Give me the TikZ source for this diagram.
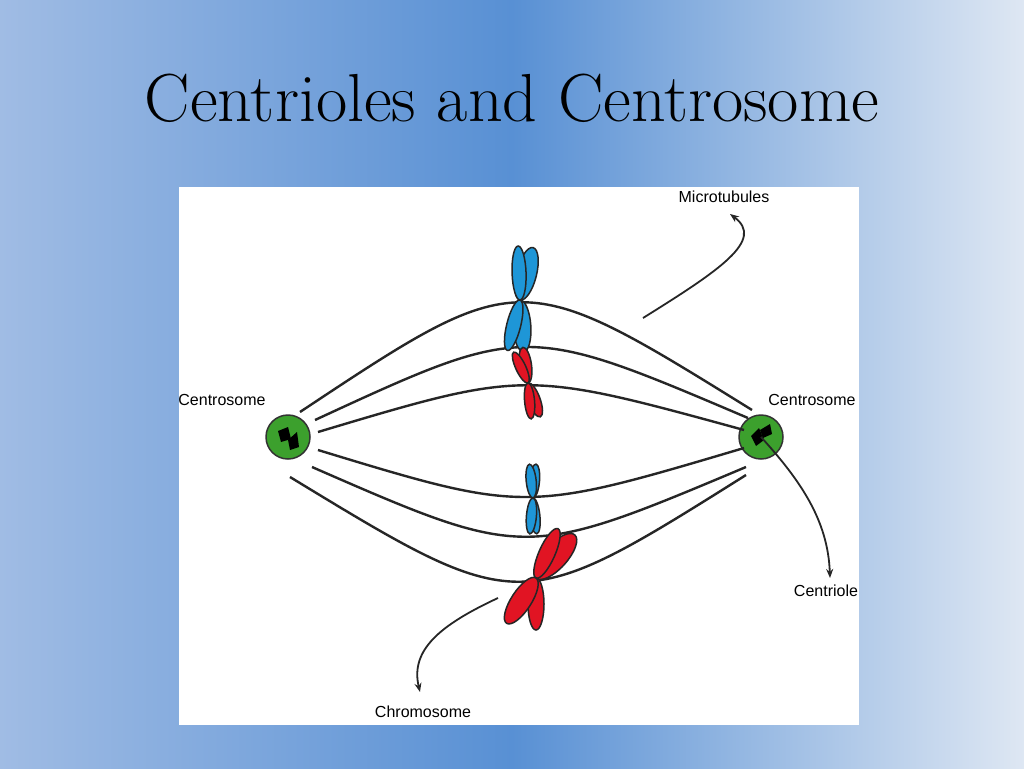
\documentclass[tikz,border=0pt]{standalone}
\usepackage{fontspec}
\newfontfamily\labelfont{Liberation Sans}
\usetikzlibrary{arrows.meta,positioning}
\definecolor{bgleft}{RGB}{160,188,228}
\definecolor{bgmid}{RGB}{88,144,212}
\definecolor{bgright}{RGB}{222,231,243}
\definecolor{chromblue}{RGB}{30,150,215}
\definecolor{chromred}{RGB}{225,20,35}
\definecolor{centgreen}{RGB}{60,160,45}
% one chromatid arm: centromere, tilt, half length, half width, up (-1) or down (1)
\newcommand{\chromarm}[5]{%
    \filldraw[shift={#1}, rotate=#2] (0,#5*#3) ellipse (#4 and #3);}
\begin{document}
\begin{tikzpicture}[x=1pt,y=-1pt,
        fibre/.style={line width=2.4pt, black!85},
        pointer/.style={-{Stealth[length=9pt,width=7pt]}, line width=1.8pt, black!85},
        lbl/.style={font=\labelfont\fontsize{16}{18}\selectfont, inner sep=0pt},
        arm/.style={draw=black!85, line width=1.5pt},
        centro/.style={circle, draw=black!80, line width=1.5pt, fill=centgreen, minimum size=44pt, inner sep=0pt}
    ]
        % Background
        \useasboundingbox (0,0) rectangle (1024,768);
        \shade[left color=bgleft, right color=bgright, middle color=bgmid] (0,0) rectangle (1024,768);
        \fill[white] (179,187) rectangle (859,725);

        % Title
        \node[font=\fontsize{68}{80}\selectfont] (title) at (512,98) {Centrioles and Centrosome};

        % Centrosomes
        \node[centro] (csl) at (288,437) {};
        \node[centro] (csr) at (761,437) {};
        \fill[black] (278,431) -- (288,427) -- (291,439) -- (281,442) -- cycle;
        \fill[black] (288,440) -- (297,432) -- (299,447) -- (290,450) -- cycle;
        \fill[black] (751,436) -- (759,428) -- (764,440) -- (756,446) -- cycle;
        \fill[black] (760,430) -- (770,424) -- (772,434) -- (763,438) -- cycle;

        % Spindle fibres
        \draw[fibre] (300,412) .. controls (520,266) .. (752,410);
        \draw[fibre] (315,420) .. controls (525,323) .. (748,418);
        \draw[fibre] (318,432) .. controls (525,370) .. (744,430);
        \draw[fibre] (318,450) .. controls (525,513) .. (744,448);
        \draw[fibre] (312,467) .. controls (525,560) .. (746,467);
        \draw[fibre] (290,477) .. controls (520,617) .. (746,475);

        % Chromosomes
        \begin{scope}[arm, fill=chromblue]
            \chromarm{(520,300)}{-14}{27}{10}{-1}
            \chromarm{(520,300)}{2}{27}{7}{-1}
            \chromarm{(520,300)}{4}{26}{9}{1}
            \chromarm{(520,300)}{-14}{26}{7}{1}
            \chromarm{(533,498)}{-5}{17}{5}{-1}
            \chromarm{(533,498)}{6}{17}{5}{-1}
            \chromarm{(533,498)}{6}{18}{5}{1}
            \chromarm{(533,498)}{-5}{18}{5}{1}
        \end{scope}
        \begin{scope}[arm, fill=chromred]
            \chromarm{(528,383)}{8}{18}{6}{-1}
            \chromarm{(528,383)}{25}{17}{5}{-1}
            \chromarm{(528,383)}{20}{18}{6}{1}
            \chromarm{(528,383)}{5}{18}{5}{1}
            \chromarm{(536,578)}{-42}{29}{12}{-1}
            \chromarm{(536,578)}{-24}{27}{8}{-1}
            \chromarm{(536,578)}{0}{26}{8}{1}
            \chromarm{(536,578)}{-33}{27}{10}{1}
        \end{scope}

        % Labels
        \node[lbl] (mt) at (724,197) {Microtubules};
        \node[lbl] (lcs) at (222,400) {Centrosome};
        \node[lbl] (rcs) at (812,400) {Centrosome};
        \node[lbl] (cen) at (826,591) {Centriole};
        \node[lbl] (chr) at (423,712) {Chromosome};

        % Pointers
        \coordinate (mtfrom) at (643,318);
        \coordinate (mtto) at (730,214);
        \coordinate (cento) at (830,578);
        \coordinate (chrfrom) at (498,598);
        \coordinate (chrto) at (420,692);
        \draw[pointer] (mtfrom) .. controls (720,270) and (765,240) .. (mtto);
        \draw[pointer] (csr.center) .. controls (800,480) and (828,520) .. (cento);
        \draw[pointer] (chrfrom) .. controls (440,625) and (410,650) .. (chrto);
    \end{tikzpicture}
\end{document}
